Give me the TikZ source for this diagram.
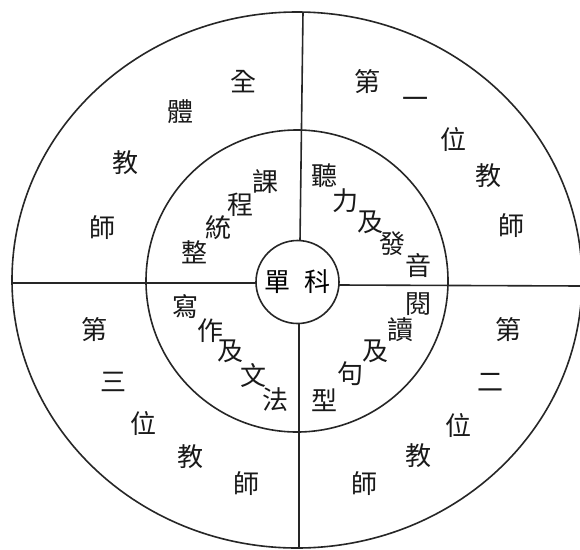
\documentclass[tikz,border=0pt]{standalone}
\usepackage{fontspec}
\newfontfamily\cjk{Noto Sans CJK TC}
\usetikzlibrary{shapes.geometric}
\begin{document}
\begin{tikzpicture}[x=1pt,y=-1pt,
  ring/.style={draw=black!85,line width=1.6pt},
  sep/.style={draw=black!85,line width=1.6pt},
  ch/.style={font=\cjk\fontsize{26pt}{26pt}\selectfont,inner sep=0pt,text=black!90}]
\useasboundingbox (0,0) rectangle (580,549);
\clip (0,0) rectangle (580,549);
\fill[white] (0,0) rectangle (580,549);
% circles
\node[ring,ellipse,minimum width=570pt,minimum height=536pt,inner sep=0pt] (outer) at (297,280) {};
\node[ring,circle,minimum size=302pt,inner sep=0pt] (mid) at (297,281) {};
\node[ring,circle,minimum size=83pt,inner sep=0pt,font=\cjk\fontsize{26pt}{26pt}\selectfont] (core) at (297.5,282) {單\hspace{14pt}科};
% dividing lines
\coordinate (tA) at (303,12);  \coordinate (tB) at (300,241);
\coordinate (bA) at (299,323); \coordinate (bB) at (299,549);
\coordinate (lA) at (12,283);  \coordinate (lB) at (256,283);
\coordinate (rA) at (339,285); \coordinate (rB) at (582,286);
\draw[sep] (tA) -- (tB);
\draw[sep] (bA) -- (bB);
\draw[sep] (lA) -- (lB);
\draw[sep] (rA) -- (rB);
% outer ring: top-left
\node[ch] (o1) at (243,82) {全};
\node[ch] (o2) at (180,112) {體};
\node[ch] (o3) at (125,163) {教};
\node[ch] (o4) at (102,228) {師};
% top-right
\node[ch] (p1) at (367,82) {第};
\node[ch] (p2) at (415,103) {一};
\node[ch] (p3) at (453,139) {位};
\node[ch] (p4) at (488,176) {教};
\node[ch] (p5) at (511,226) {師};
% bottom-left
\node[ch] (q1) at (94,330) {第};
\node[ch] (q2) at (113,382) {三};
\node[ch] (q3) at (143,423) {位};
\node[ch] (q4) at (190,457) {教};
\node[ch] (q5) at (246,484) {師};
% bottom-right
\node[ch] (s1) at (508,330) {第};
\node[ch] (s2) at (490,382) {二};
\node[ch] (s3) at (458,425) {位};
\node[ch] (s4) at (418,456) {教};
\node[ch] (s5) at (364,484) {師};
% inner ring
\node[ch] (i1) at (265,182) {課};
\node[ch] (i2) at (240,205) {程};
\node[ch] (i3) at (218,228) {統};
\node[ch] (i4) at (194,252) {整};
\node[ch] (j1) at (324,176) {聽};
\node[ch] (j2) at (345,201) {力};
\node[ch] (j3) at (370,222) {及};
\node[ch] (j4) at (392,244) {發};
\node[ch] (j5) at (418,266) {音};
\node[ch] (k1) at (418,304) {閱};
\node[ch] (k2) at (400,330) {讀};
\node[ch] (k3) at (375,351) {及};
\node[ch] (k4) at (350,374) {句};
\node[ch] (k5) at (324,400) {型};
\node[ch] (m1) at (185,307) {寫};
\node[ch] (m2) at (210,331) {作};
\node[ch] (m3) at (230,351) {及};
\node[ch] (m4) at (253,375) {文};
\node[ch] (m5) at (275,400) {法};
\end{tikzpicture}
\end{document}
